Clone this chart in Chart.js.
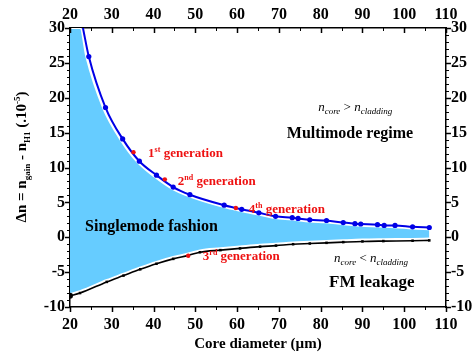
<!DOCTYPE html>
<html>
<head>
<meta charset="utf-8">
<script src="https://cdn.jsdelivr.net/npm/chart.js@4.4.1/dist/chart.umd.min.js"></script>
<style>
  html, body { margin: 0; padding: 0; background: #fff; }
</style>
</head>
<body>
<canvas id="chart" width="475" height="358"></canvas>
<script>
// upper boundary: n_core > n_cladding (blue)
const upperX = [23.1, 24.5, 28.5, 32.6, 36.6, 40.7, 44.7, 48.7, 56.9, 61.1, 65.2, 69.2, 73.2, 74.6, 77.4, 81.4, 85.4, 88.2, 89.6, 93.6, 95.2, 97.8, 102.0, 106.0];
const upperY = [30.0, 25.9, 18.6, 14.1, 10.9, 8.9, 7.2, 6.1, 4.6, 4.0, 3.5, 3.0, 2.8, 2.7, 2.5, 2.4, 2.1, 1.95, 1.9, 1.8, 1.7, 1.7, 1.5, 1.4];

// lower boundary: n_core < n_cladding (black)
const lowerX = [20.0, 22.4, 28.8, 32.8, 36.8, 40.7, 44.7, 48.3, 51.1, 56.0, 60.7, 65.5, 69.3, 73.4, 77.4, 81.4, 85.4, 90.0, 95.0, 102.0, 106.0];
const lowerY = [-8.4, -8.0, -6.4, -5.5, -4.6, -3.8, -3.1, -2.6, -2.15, -1.85, -1.6, -1.35, -1.2, -1.0, -0.9, -0.8, -0.7, -0.6, -0.55, -0.5, -0.45];

// edges of the single-mode (shaded) region
const shadeTopX = [20.0, 22.5, 23.9, 27.9, 32.1, 36.1, 40.2, 44.3, 48.4, 56.7, 61.0, 65.1, 69.1, 73.2, 77.4, 81.4, 85.4, 89.6, 93.6, 97.8, 102.0, 106.0];
const shadeTopY = [30.0, 30.0, 25.9, 18.6, 14.0, 10.8, 8.7, 7.0, 5.9, 4.35, 3.75, 3.25, 2.75, 2.55, 2.25, 2.15, 1.85, 1.65, 1.55, 1.45, 1.25, 1.15];
const shadeBotX = lowerX;
const shadeBotY = [-8.1, -7.7, -6.1, -5.2, -4.3, -3.5, -2.8, -2.3, -1.85, -1.55, -1.3, -1.05, -0.9, -0.7, -0.6, -0.5, -0.4, -0.3, -0.25, -0.2, -0.15];

// fiber generations
const genX = [35.2, 42.7, 48.3, 59.7];
const genY = [12.2, 8.3, -2.65, 4.2];

const SERIF = "'Liberation Serif', 'Times New Roman', serif";
const BLUE = 'rgb(0,0,230)';
const RED = '#ee1111';
const SHADE = '#66ccff';

const pts = (xs, ys) => xs.map((x, i) => ({ x: x, y: ys[i] }));

// labels inside the plot, anchored in data units
const notes = [
    { x: 23.6, y: 1.6, color: '#000', parts: [{ t: 'Singlemode fashion', size: 16 }] },
    { x: 71.9, y: 15.0, color: '#000', parts: [{ t: 'Multimode regime', size: 16 }] },
    { x: 82.0, y: -6.3, color: '#000', parts: [{ t: 'FM leakage', size: 17 }] },
    { x: 79.4, y: 18.7, color: '#000', parts: [
        { t: 'n', size: 13, italic: true, light: true }, { t: 'core', size: 9, dy: 3, italic: true, light: true },
        { t: ' > ', size: 13, light: true },
        { t: 'n', size: 13, italic: true, light: true }, { t: 'cladding', size: 9, dy: 3, italic: true, light: true }] },
    { x: 83.2, y: -2.9, color: '#000', parts: [
        { t: 'n', size: 13, italic: true, light: true }, { t: 'core', size: 9, dy: 3, italic: true, light: true },
        { t: ' < ', size: 13, light: true },
        { t: 'n', size: 13, italic: true, light: true }, { t: 'cladding', size: 9, dy: 3, italic: true, light: true }] },
    { x: 38.7, y: 12.1, color: RED, parts: [{ t: '1', size: 13 }, { t: 'st', size: 8, dy: -5 }, { t: ' generation', size: 13 }] },
    { x: 45.8, y: 8.1, color: RED, parts: [{ t: '2', size: 13 }, { t: 'nd', size: 8, dy: -5 }, { t: ' generation', size: 13 }] },
    { x: 62.8, y: 4.1, color: RED, parts: [{ t: '4', size: 13 }, { t: 'th', size: 8, dy: -5 }, { t: ' generation', size: 13 }] },
    { x: 51.8, y: -2.7, color: RED, parts: [{ t: '3', size: 13 }, { t: 'rd', size: 8, dy: -5 }, { t: ' generation', size: 13 }] }
];

const yTitle = [
    { t: 'Δn = n', size: 15 }, { t: 'gain', size: 9, dy: 4 },
    { t: ' - n', size: 15 }, { t: 'H1', size: 9, dy: 4 },
    { t: ' (.10', size: 15 }, { t: '-5', size: 9, dy: -6 }, { t: ')', size: 15 }
];

function partFont(p) {
    return (p.italic ? 'italic ' : '') + (p.light ? '' : 'bold ') + p.size + 'px ' + SERIF;
}

function richWidth(ctx, parts) {
    let w = 0;
    parts.forEach(p => { ctx.font = partFont(p); w += ctx.measureText(p.t).width; });
    return w;
}

function drawRich(ctx, parts, x, y) {
    let cx = x;
    parts.forEach(p => {
        ctx.font = partFont(p);
        ctx.fillText(p.t, cx, y + (p.dy || 0));
        cx += ctx.measureText(p.t).width;
    });
}

const annotate = {
    id: 'annotate',
    afterDatasetsDraw(chart) {
        const { ctx, scales } = chart;
        ctx.save();
        ctx.textBaseline = 'alphabetic';
        ctx.textAlign = 'left';
        notes.forEach(n => {
            ctx.fillStyle = n.color;
            const px = scales.x.getPixelForValue(n.x);
            const py = scales.y.getPixelForValue(n.y) + n.parts[0].size * 0.33;
            drawRich(ctx, n.parts, px, py);
        });
        // rotated y-axis title with sub/superscripts
        ctx.fillStyle = '#000';
        ctx.translate(26, 157);
        ctx.rotate(-Math.PI / 2);
        drawRich(ctx, yTitle, -richWidth(ctx, yTitle) / 2, 0);
        ctx.restore();
    }
};

// major and minor tick marks on all four sides
const tickMarks = {
    id: 'tickMarks',
    afterDraw(chart) {
        const { ctx, chartArea: a, scales } = chart;
        ctx.save();
        ctx.strokeStyle = '#000';
        const seg = (x1, y1, x2, y2, w) => {
            ctx.lineWidth = w;
            ctx.beginPath();
            ctx.moveTo(x1, y1);
            ctx.lineTo(x2, y2);
            ctx.stroke();
        };
        for (let v = 20; v <= 110; v += 5) {
            const major = v % 10 === 0;
            const len = major ? 5 : 3;
            const w = major ? 1.5 : 1;
            const px = Math.round(scales.x.getPixelForValue(v)) + 0.5;
            seg(px, a.bottom, px, a.bottom + len, w);
            seg(px, a.top, px, a.top + len, w);
        }
        for (let v = -10; v <= 30; v += 1) {
            const major = v % 5 === 0;
            const len = major ? 5 : 3;
            const w = major ? 1.5 : 1;
            const py = Math.round(scales.y.getPixelForValue(v)) + 0.5;
            seg(a.left - len, py, a.left, py, w);
            seg(a.right, py, a.right + len, py, w);
        }
        ctx.restore();
    }
};

const tickFont = { family: SERIF, size: 16, weight: 'bold' };
const axisBorder = { display: true, color: '#000', width: 1.5 };

function xAxis(position, padding, height) {
    return {
        type: 'linear', position: position, min: 20, max: 110,
        ticks: { stepSize: 10, font: tickFont, color: '#000', padding: padding, maxRotation: 0, autoSkip: false },
        grid: { display: false, drawTicks: false },
        border: axisBorder,
        afterFit: s => { s.height = height; }
    };
}

function yAxis(position, width) {
    return {
        type: 'linear', position: position, min: -10, max: 30,
        ticks: { stepSize: 5, font: tickFont, color: '#000', padding: 5, autoSkip: false },
        grid: { display: false, drawTicks: false },
        border: axisBorder,
        afterFit: s => { s.width = width; }
    };
}

const xBottom = xAxis('bottom', 8, 51);
xBottom.title = {
    display: true, text: 'Core diameter (µm)', color: '#000',
    font: { family: SERIF, size: 15, weight: 'bold' }, padding: { top: 0, bottom: 5 }
};

new Chart(document.getElementById('chart'), {
    type: 'line',
    data: {
        datasets: [
            {
                data: pts(shadeTopX, shadeTopY),
                borderColor: '#fff', borderWidth: 2, pointRadius: 0,
                backgroundColor: SHADE, fill: 1,
                cubicInterpolationMode: 'monotone', order: 6
            },
            {
                data: pts(shadeBotX, shadeBotY),
                borderColor: '#fff', borderWidth: 1.5, pointRadius: 0,
                fill: false, cubicInterpolationMode: 'monotone', order: 5
            },
            {
                data: pts(upperX, upperY),
                borderColor: BLUE, backgroundColor: BLUE, borderWidth: 2,
                pointRadius: upperX.map((x, i) => i === 0 ? 0 : 2.6), pointBorderWidth: 0,
                fill: false, cubicInterpolationMode: 'monotone', order: 3
            },
            {
                data: pts(lowerX, lowerY),
                borderColor: '#000', backgroundColor: '#000', borderWidth: 1.6,
                pointStyle: lowerX.map((x, i) => i === 0 ? 'circle' : 'rect'),
                pointRadius: lowerX.map((x, i) => i === 0 ? 3 : 1.8), pointBorderWidth: 0,
                fill: false, cubicInterpolationMode: 'monotone', order: 3
            },
            {
                data: pts(genX, genY),
                showLine: false, borderColor: RED, backgroundColor: RED,
                pointRadius: 2.2, pointBorderWidth: 0, order: 1
            }
        ]
    },
    options: {
        responsive: false,
        animation: false,
        events: [],
        layout: { padding: 0 },
        plugins: { legend: { display: false }, tooltip: { enabled: false } },
        scales: {
            x: xBottom,
            x2: xAxis('top', 4, 28),
            y: yAxis('left', 70),
            y2: yAxis('right', 29)
        }
    },
    plugins: [annotate, tickMarks]
});
</script>
</body>
</html>
